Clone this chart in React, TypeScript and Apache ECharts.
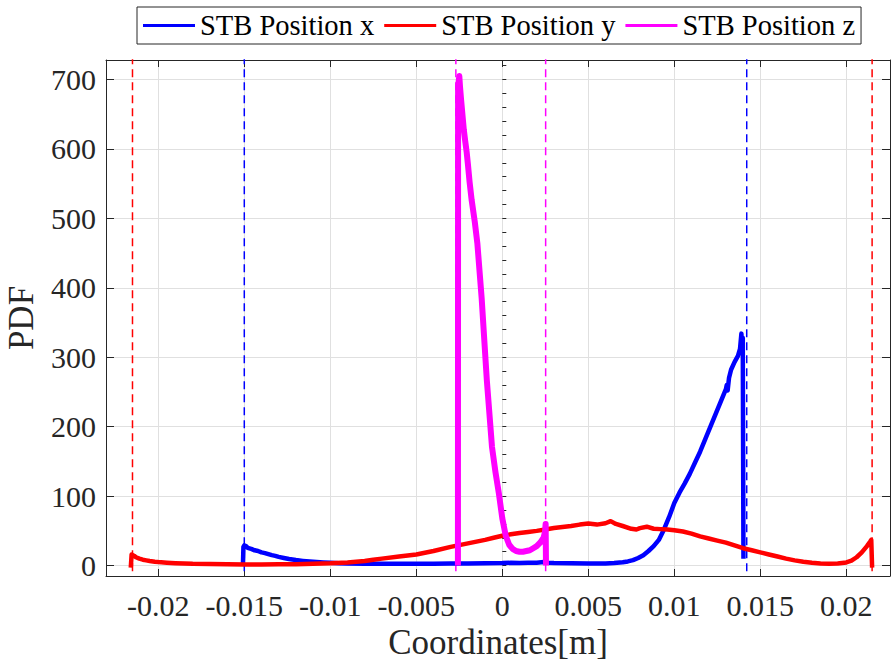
import React, { useEffect, useRef } from "react";
import * as echarts from "echarts";

// ---- Data ----
const xTicks = [-0.02, -0.015, -0.01, -0.005, 0, 0.005, 0.01, 0.015, 0.02];
const yTicks = [0, 100, 200, 300, 400, 500, 600, 700];
const yMinorTicks = [0, 20, 40, 60, 80, 100, 120, 140, 160, 180, 200, 220, 240, 260, 280, 300, 320, 340, 360, 380, 400, 420, 440, 460, 480, 500, 520, 540, 560, 580, 600, 620, 640, 660, 680, 700, 720];

const posX: [number, number][] = [
  [-0.01508, 0], [-0.01505, 27], [-0.015, 29], [-0.01495, 27], [-0.0149, 28], [-0.0148, 25.5],
  [-0.0146, 24], [-0.0144, 22], [-0.0142, 21], [-0.014, 19], [-0.0138, 18], [-0.0136, 16.5],
  [-0.0134, 15], [-0.0132, 14], [-0.013, 12.5], [-0.0127, 11], [-0.0124, 9.5], [-0.012, 8],
  [-0.0116, 6.8], [-0.0112, 5.8], [-0.0108, 5], [-0.0104, 4.4], [-0.01, 4], [-0.0095, 3.4],
  [-0.009, 3], [-0.008, 2.7], [-0.007, 2.5], [-0.006, 2.6], [-0.005, 2.5], [-0.004, 2.8],
  [-0.003, 2.9], [-0.002, 3.1], [-0.001, 3.4], [0, 3.6], [0.0005, 4], [0.001, 3.7],
  [0.0015, 3.9], [0.002, 4.2], [0.0024, 5], [0.0026, 4], [0.003, 3.6], [0.004, 3.3],
  [0.005, 3], [0.0055, 2.9], [0.006, 3.1], [0.0065, 3.6], [0.007, 4.8], [0.0073, 6],
  [0.0076, 7.8], [0.0079, 11], [0.0082, 15], [0.0085, 21], [0.0088, 28], [0.0091, 37],
  [0.0094, 52], [0.0097, 70], [0.01, 90], [0.0103, 105], [0.0106, 118], [0.0109, 132],
  [0.0112, 148], [0.0115, 164], [0.0118, 182], [0.0121, 200], [0.0124, 218], [0.0127, 236],
  [0.013, 254], [0.01305, 260], [0.0131, 252], [0.01318, 270], [0.0133, 282], [0.0135, 293],
  [0.0137, 302], [0.01382, 312], [0.0139, 334], [0.01394, 318], [0.01398, 328], [0.01402, 10],
];

const posY: [number, number][] = [
  [-0.0216, -3], [-0.02155, 16], [-0.0214, 14], [-0.0213, 12], [-0.0211, 10], [-0.0209, 8.5],
  [-0.0207, 7.5], [-0.0205, 6.5], [-0.0202, 5.5], [-0.02, 5], [-0.0195, 4.2], [-0.019, 3.5],
  [-0.0185, 3], [-0.018, 2.5], [-0.017, 2.1], [-0.016, 1.8], [-0.015, 1.6], [-0.014, 1.6],
  [-0.013, 1.8], [-0.012, 2], [-0.011, 2.5], [-0.01, 3.2], [-0.009, 4.5], [-0.008, 6.5],
  [-0.0075, 8.5], [-0.007, 10], [-0.006, 13], [-0.005, 16], [-0.004, 21], [-0.003, 27],
  [-0.002, 32], [-0.001, 37], [-0.0005, 40], [0, 43], [0.0005, 45], [0.001, 47],
  [0.0015, 48.5], [0.002, 50], [0.0025, 52], [0.003, 54], [0.0035, 55.5], [0.004, 57],
  [0.0045, 59], [0.005, 60.5], [0.0055, 59], [0.006, 61], [0.0063, 64], [0.0066, 60],
  [0.007, 57], [0.0075, 53], [0.0078, 52], [0.008, 54], [0.0084, 56], [0.0088, 53],
  [0.0092, 52.5], [0.0096, 52], [0.01, 51], [0.0105, 49], [0.011, 46], [0.0115, 42],
  [0.012, 39], [0.0125, 36], [0.013, 33], [0.0135, 29], [0.014, 25], [0.0145, 22],
  [0.015, 19], [0.0155, 16], [0.016, 13], [0.0165, 10], [0.017, 7.5], [0.0175, 5.5],
  [0.018, 4], [0.0185, 3], [0.019, 2.6], [0.0195, 3], [0.02, 4.5], [0.0203, 7],
  [0.0206, 12], [0.0209, 19], [0.0212, 28], [0.0214, 35], [0.02145, 37], [0.0215, -3],
];

const posZ: [number, number][] = [
  [-0.00258, 0], [-0.00257, 690], [-0.0025, 705], [-0.00246, 690], [-0.0024, 672], [-0.00232, 650],
  [-0.00224, 628], [-0.00216, 612], [-0.00207, 595], [-0.002, 578], [-0.0019, 552],
  [-0.00178, 526], [-0.0016, 495], [-0.00145, 464], [-0.0012, 385], [-0.0009, 267], [-0.0006, 171],
  [-0.0004, 135], [-0.0002, 104], [0, 68], [0.0002, 43], [0.0004, 30], [0.0006, 24],
  [0.0008, 21], [0.001, 20], [0.0012, 20], [0.0014, 21], [0.0016, 22], [0.0018, 25],
  [0.002, 28], [0.0022, 33], [0.0024, 40], [0.00248, 48], [0.00252, 60], [0.00254, 0],
];

const boundsX = [-0.015, 0.01421];
const boundsY = [-0.0215, 0.0215];
const boundsZ = [-0.0027, 0.00252];
const dashSpan = [-8, 730];

const names = ["STB Position x", "STB Position y", "STB Position z"];
const colors = ["#0000ff", "#ff0000", "#ff00ff"];

const FONT = "'Times New Roman', 'Liberation Serif', serif";
const AX = "#262626";

export default function App() {
  const ref = useRef<HTMLDivElement>(null);
  useEffect(() => {
    if (!ref.current) return;
    const chart = echarts.init(ref.current, null, { renderer: "svg" });
    const xMin = -0.02304, xMax = 0.02254, yMin = -15, yMax = 728;

    const dashSeries = (b: number[], color: string, id: string) =>
      b.map((v, i) => ({
        type: "line",
        name: id + i,
        data: [[v, dashSpan[0]], [v, dashSpan[1]]],
        showSymbol: false,
        symbol: "none",
        lineStyle: { color, width: 1.5, type: [8, 5] },
        silent: true,
        z: 1,
      }));

    const main = [posX, posY, posZ].map((d, i) => ({
      type: "line",
      name: names[i],
      data: d,
      showSymbol: false,
      symbol: "none",
      lineStyle: { color: colors[i], width: i === 2 ? 6 : 4.5, join: "round" },
      itemStyle: { color: colors[i] },
      z: 3 + i,
    }));

    const fmt = (v: number) => String(Math.round(v * 1000) / 1000);

    chart.setOption({
      animation: false,
      backgroundColor: "#ffffff",
      grid: { left: 106, top: 60, right: 1, bottom: 87, containLabel: false, outerBoundsMode: "none" },
      legend: {
        data: names,
        left: 137,
        top: 7,
        padding: [4, 6, 4, 6],
        itemGap: 10,
        itemWidth: 52,
        itemHeight: 3,
        icon: "rect",
        borderColor: AX,
        borderWidth: 1,
        backgroundColor: "#fff",
        textStyle: { fontFamily: FONT, fontSize: 28.5, color: "#000", padding: [0, 0, 0, 0] },
      },
      xAxis: [
        {
          type: "value",
          min: xMin,
          max: xMax,
          position: "bottom",
          name: "Coordinates[m]",
          nameLocation: "middle",
          nameGap: 41,
          nameTextStyle: { fontFamily: FONT, fontSize: 35, color: AX, verticalAlign: "top" },
          axisLine: { show: true, onZero: false, lineStyle: { color: AX, width: 1 } },
          axisTick: { show: true, inside: true, length: 7, customValues: xTicks, lineStyle: { color: AX } },
          axisLabel: { customValues: xTicks, formatter: fmt, fontFamily: FONT, fontSize: 30, color: AX, margin: 14 },
          splitLine: { show: true, lineStyle: { color: "#e0e0e0", width: 1 } },
        },
        {
          type: "value",
          min: xMin,
          max: xMax,
          position: "top",
          axisLine: { show: true, onZero: false, lineStyle: { color: AX, width: 1 } },
          axisTick: { show: true, inside: true, length: 7, customValues: xTicks, lineStyle: { color: AX } },
          axisLabel: { show: false },
          splitLine: { show: false },
        },
      ],
      yAxis: [
        {
          type: "value",
          min: yMin,
          max: yMax,
          position: "left",
          name: "PDF",
          nameLocation: "middle",
          nameGap: 67,
          nameRotate: 90,
          nameTextStyle: { fontFamily: FONT, fontSize: 35, color: AX },
          axisLine: { show: true, onZero: false, lineStyle: { color: AX, width: 1 } },
          axisTick: { show: true, inside: true, length: 8, customValues: yTicks, lineStyle: { color: AX } },
          axisLabel: { customValues: yTicks, fontFamily: FONT, fontSize: 30, color: AX, margin: 10 },
          splitLine: { show: true, lineStyle: { color: "#e0e0e0", width: 1 } },
        },
        {
          type: "value",
          min: yMin,
          max: yMax,
          position: "left",
          axisLine: { show: false },
          axisTick: { show: true, inside: true, length: 4, customValues: yMinorTicks, lineStyle: { color: AX } },
          axisLabel: { show: false },
          splitLine: { show: false },
        },
        {
          type: "value",
          min: yMin,
          max: yMax,
          position: "right",
          axisLine: { show: true, onZero: false, lineStyle: { color: AX, width: 1 } },
          axisTick: { show: true, inside: true, length: 8, customValues: yTicks, lineStyle: { color: AX } },
          axisLabel: { show: false },
          splitLine: { show: false },
        },
      ],
      series: [
        ...main,
        ...dashSeries(boundsX, colors[0], "bx"),
        ...dashSeries(boundsY, colors[1], "by"),
        ...dashSeries(boundsZ, colors[2], "bz"),
      ],
    });
    return () => chart.dispose();
  }, []);
  return (
    <div
      ref={ref}
      style={{ position: "fixed", left: 0, top: 0, width: 891, height: 663, background: "#fff" }}
    />
  );
}
